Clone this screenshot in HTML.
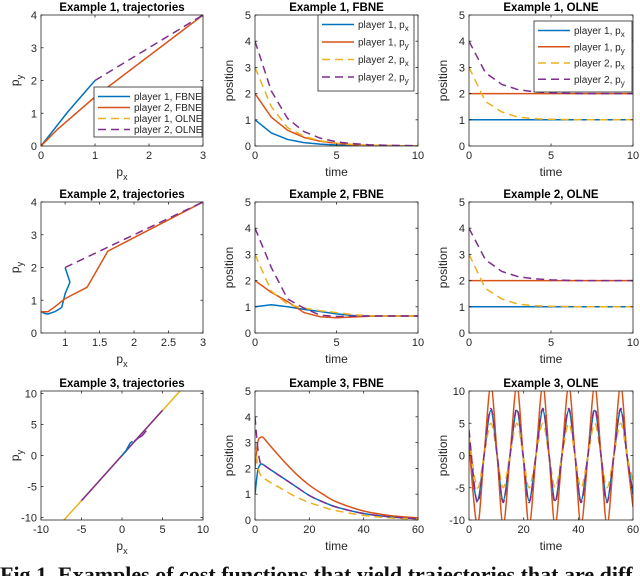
<!DOCTYPE html>
<html><head><meta charset="utf-8"><style>
body{margin:0;background:#fff}
svg{display:block;font-family:"Liberation Sans",sans-serif}
</style></head><body>
<svg id="fig" width="640" height="576" viewBox="0 0 640 576">
<text x="0" y="582" font-family="Liberation Serif, serif" font-weight="bold" font-size="22" fill="#111">Fig 1. Examples of cost functions that yield trajectories that are diff</text>
</svg>
<script>
// ---------- data ----------
const tSteps = [0,1,2,3,4,5,6,7,8,9,10];
const ex1TrajP1Fx = [0,0.5,1], ex1TrajP1Fy = [0,1.05,2];
const ex1TrajP2Fx = [0,0.3,1,3], ex1TrajP2Fy = [0,0.5,1.5,4];
const ex1TrajP1Ox = [1,1], ex1TrajP1Oy = [2,2];
const ex1TrajP2Ox = [1,3], ex1TrajP2Oy = [2,4];
const ex1F_p1x = [1,0.5,0.25,0.13,0.07,0.04,0.02,0.01,0.005,0,0];
const ex1F_p1y = [2,1.1,0.6,0.33,0.18,0.1,0.05,0.03,0.02,0.01,0];
const ex1F_p2x = [3,1.5,0.7,0.37,0.2,0.11,0.06,0.03,0.02,0.01,0];
const ex1F_p2y = [4,2.1,1.05,0.55,0.3,0.16,0.09,0.05,0.03,0.02,0.01];
const exO_p1x = [1,1,1,1,1,1,1,1,1,1,1];
const exO_p1y = [2,2,2,2,2,2,2,2,2,2,2];
const exO_p2x = [3,1.7,1.3,1.1,1.04,1.02,1.01,1,1,1,1];
const exO_p2y = [4,2.8,2.35,2.15,2.07,2.03,2.01,2,2,2,2];
const ex2TrajP1Fx = [1,1.07,1,0.95,0.85,0.75,0.7,0.65], ex2TrajP1Fy = [2,1.55,1.2,0.78,0.65,0.58,0.6,0.65];
const ex2TrajP2Fx = [3,1.62,1.32,1,0.85,0.75,0.65], ex2TrajP2Fy = [4,2.5,1.4,1.05,0.8,0.65,0.65];
const ex2TrajP2Ox = [1,3], ex2TrajP2Oy = [2,4];
const ex2F_p1x = [1,1.08,1.0,0.9,0.82,0.73,0.67,0.65,0.65,0.65,0.65];
const ex2F_p1y = [2,1.55,1.2,0.78,0.62,0.58,0.61,0.64,0.65,0.65,0.65];
const ex2F_p2x = [3,1.6,1.1,0.95,0.85,0.78,0.7,0.66,0.65,0.65,0.65];
const ex2F_p2y = [4,2.5,1.3,0.95,0.68,0.63,0.64,0.65,0.65,0.65,0.65];
const ex3TrajP2Ox = [-7.3,7.3], ex3TrajP2Oy = [-10.6,10.6];
const ex3TrajP1Ox = [-5,5], ex3TrajP1Oy = [-7.3,7.3];
const ex3TrajP1Fx = [0,0.5,1,1.3], ex3TrajP1Fy = [0,0.8,2,2.3];
const ex3TrajP2Fx = [1.5,2,2.5,3], ex3TrajP2Fy = [2.3,2.8,3.2,4];
const ex3FT = [0,1,2,3,5,10,15,20,25,30,40,50,60];
const ex3F_p1x = [1,1.9,2.15,2.15,2.0,1.65,1.3,0.95,0.7,0.5,0.25,0.12,0.05];
const ex3F_p1y = [2,3.0,3.2,3.2,2.95,2.35,1.8,1.35,1.0,0.7,0.35,0.17,0.08];
const ex3F_p2x = [3,2.1,1.75,1.65,1.5,1.2,0.9,0.68,0.5,0.36,0.18,0.08,0.03];
const ex3F_p2y = [4,2.8,2.2,2.15,2.0,1.65,1.3,0.95,0.7,0.5,0.25,0.12,0.05];
const ex3OT = [0,3,5.5,8,10.3,12.5,15,17.5,19.8,22,24.5,27,29.3,31.5,34,36.5,38.8,41,43.5,46,48.3,50.5,53,55.5,57.8,60];
const ex3O_p1x = [1,-7,0,7,0,-7,0,7,0,-7,0,7,0,-7,0,7,0,-7,0,7,0,-7,0,7,0,-6];
const ex3O_p1y = [2,-10.8,0,10.8,0,-10.8,0,10.8,0,-10.8,0,10.8,0,-10.8,0,10.8,0,-10.8,0,10.8,0,-10.8,0,10.8,0,-8];
const ex3O_p2x = [3,-5,0,5,0,-5,0,5,0,-5,0,5,0,-5,0,5,0,-5,0,5,0,-5,0,5,0,-4];
const ex3O_p2y = [4,-7.3,0,7.3,0,-7.3,0,7.3,0,-7.3,0,7.3,0,-7.3,0,7.3,0,-7.3,0,7.3,0,-7.3,0,7.3,0,-6];
const timeTicks10 = [0,5,10], timeTicks60 = [0,20,40,60];
const posTicks = [0,1,2,3,4,5], trajTicks4 = [0,1,2,3,4];
const ex1XTicks = [0,1,2,3], ex2XTicks = [1,1.5,2,2.5,3];
const ex3Ticks = [-10,-5,0,5,10];

// ---------- drawing ----------
const NS = 'http://www.w3.org/2000/svg';
const svg = document.getElementById('fig');
const C = {b:'#0072BD', o:'#D95319', y:'#EDB120', p:'#7E2F8E'};
const colL = [41,255,469], colR = [203,418,633];
const rowT = [15,202,391], rowB = [146,333,520];
function mk(tag, attrs, parent){const e=document.createElementNS(NS,tag);for(const k in attrs)e.setAttribute(k,attrs[k]);(parent||svg).appendChild(e);return e;}
let clipId=0;
function panel(o){
  const g = mk('g',{});
  
  
  const L=colL[o.c],R=colR[o.c],T=rowT[o.r],B=rowB[o.r];
  const sx=v=>L+(v-o.xd[0])/(o.xd[1]-o.xd[0])*(R-L);
  const sy=v=>B-(v-o.yd[0])/(o.yd[1]-o.yd[0])*(B-T);
  const id='clip'+(clipId++);
  const cp=mk('clipPath',{id:id},g); mk('rect',{x:L,y:T,width:R-L,height:B-T},cp);
  const sg=mk('g',{'clip-path':'url(#'+id+')'},g);
  o.series.forEach(s=>{
    let d;
    const pts=s.x.map((v,i)=>[sx(v),sy(s.y[i])]);
    if(s.smooth){
      d='M'+pts[0][0]+','+pts[0][1];
      for(let i=0;i<pts.length-1;i++){
        const p0=pts[Math.max(0,i-1)],p1=pts[i],p2=pts[i+1],p3=pts[Math.min(pts.length-1,i+2)];
        d+=' C'+(p1[0]+(p2[0]-p0[0])/6)+','+(p1[1]+(p2[1]-p0[1])/6)+' '+(p2[0]-(p3[0]-p1[0])/6)+','+(p2[1]-(p3[1]-p1[1])/6)+' '+p2[0]+','+p2[1];
      }
    } else d='M'+pts.map(p=>p.join(',')).join(' L');
    const path=mk('path',{d:d,fill:'none',stroke:s.col,'stroke-width':1.5,'stroke-dasharray':s.dash?'8,5':'none','stroke-linejoin':'round'},sg);
    
    
  });
  mk('rect',{x:L,y:T,width:R-L,height:B-T,fill:'none',stroke:'#262626','stroke-width':0.8},g);
  o.xt.forEach(v=>{
    const x=sx(v);
    mk('line',{x1:x,x2:x,y1:B,y2:B-2.5,stroke:'#262626','stroke-width':0.8},g);
    mk('line',{x1:x,x2:x,y1:T,y2:T+2.5,stroke:'#262626','stroke-width':0.8},g);
    const t=mk('text',{x:x,y:B+13,'text-anchor':'middle','font-size':11,fill:'#262626'},g);t.textContent=v;
    
    
  });
  o.yt.forEach(v=>{
    const y=sy(v);
    mk('line',{x1:L,x2:L+2.5,y1:y,y2:y,stroke:'#262626','stroke-width':0.8},g);
    mk('line',{x1:R,x2:R-2.5,y1:y,y2:y,stroke:'#262626','stroke-width':0.8},g);
    const t=mk('text',{x:L-4,y:y+4,'text-anchor':'end','font-size':11,fill:'#262626'},g);t.textContent=v;
    
    
  });
  const tt=mk('text',{x:(L+R)/2,y:T-4,'text-anchor':'middle','font-size':11.5,'font-weight':'bold',fill:'#000'},g);tt.textContent=o.title;
  
  
  const xl=mk('text',{x:(L+R)/2,y:B+30,'text-anchor':'middle','font-size':12,fill:'#262626'},g);
  if(o.traj){xl.innerHTML='p<tspan font-size="9" dy="4">x</tspan>';}else xl.textContent='time';
  
  
  const yx=L-22, yy=(T+B)/2;
  const yl=mk('text',{x:yx,y:yy,'text-anchor':'middle','font-size':12,fill:'#262626',transform:'rotate(-90 '+yx+' '+yy+')'},g);
  if(o.traj){yl.innerHTML='p<tspan font-size="9" dy="4">y</tspan>';}else yl.textContent='position';
  
  
  if(o.legend){
    const lg=o.legend; const lgG=mk('g',{},g);
    
    
    mk('rect',{x:lg.x,y:lg.y,width:lg.w,height:lg.h,fill:'#fff',stroke:'#262626','stroke-width':0.8},lgG);
    o.series.forEach((s,i)=>{
      const yy2=lg.y+9.5+i*(lg.h-6)/4;
      mk('line',{x1:lg.x+4,x2:lg.x+36,y1:yy2,y2:yy2,stroke:s.col,'stroke-width':1.5,'stroke-dasharray':s.dash?'8,5':'none'},lgG);
      const t=mk('text',{x:lg.x+40,y:yy2+3.5,'font-size':10,fill:'#262626'},lgG);
      t.innerHTML=lg.labels[i];
      
      
    });
  }
}
const posLabels=['player 1, p<tspan font-size="8" dy="3">x</tspan>','player 1, p<tspan font-size="8" dy="3">y</tspan>','player 2, p<tspan font-size="8" dy="3">x</tspan>','player 2, p<tspan font-size="8" dy="3">y</tspan>'];
function ts(x,a,b,c,d,sm){return [
  {name:'player1-px',x:x,y:a,col:C.b,smooth:sm},{name:'player1-py',x:x,y:b,col:C.o,smooth:sm},
  {name:'player2-px',x:x,y:c,col:C.y,dash:1,smooth:sm},{name:'player2-py',x:x,y:d,col:C.p,dash:1,smooth:sm}];}
panel({name:'ex1-trajectories',r:0,c:0,traj:1,title:'Example 1, trajectories',xd:[0,3],yd:[0,4],xt:ex1XTicks,yt:trajTicks4,
  series:[{name:'player1-fbne',x:ex1TrajP1Fx,y:ex1TrajP1Fy,col:C.b},{name:'player2-fbne',x:ex1TrajP2Fx,y:ex1TrajP2Fy,col:C.o},
  {name:'player1-olne',x:ex1TrajP1Ox,y:ex1TrajP1Oy,col:C.y,dash:1},{name:'player2-olne',x:ex1TrajP2Ox,y:ex1TrajP2Oy,col:C.p,dash:1}],
  legend:{x:94,y:87,w:108,h:50,labels:['player 1, FBNE','player 2, FBNE','player 1, OLNE','player 2, OLNE']}});
panel({name:'ex1-fbne',r:0,c:1,title:'Example 1, FBNE',xd:[0,10],yd:[0,5],xt:timeTicks10,yt:posTicks,
  series:ts(tSteps,ex1F_p1x,ex1F_p1y,ex1F_p2x,ex1F_p2y),legend:{x:318,y:15,w:96,h:76,labels:posLabels}});
panel({name:'ex1-olne',r:0,c:2,title:'Example 1, OLNE',xd:[0,10],yd:[0,5],xt:timeTicks10,yt:posTicks,
  series:ts(tSteps,exO_p1x,exO_p1y,exO_p2x,exO_p2y),legend:{x:534,y:21,w:98,h:71,labels:posLabels}});
panel({name:'ex2-trajectories',r:1,c:0,traj:1,title:'Example 2, trajectories',xd:[0.65,3],yd:[0,4],xt:ex2XTicks,yt:trajTicks4,
  series:[{name:'player1-fbne',x:ex2TrajP1Fx,y:ex2TrajP1Fy,col:C.b},{name:'player2-fbne',x:ex2TrajP2Fx,y:ex2TrajP2Fy,col:C.o},
  {name:'player2-olne',x:ex2TrajP2Ox,y:ex2TrajP2Oy,col:C.p,dash:1}]});
panel({name:'ex2-fbne',r:1,c:1,title:'Example 2, FBNE',xd:[0,10],yd:[0,5],xt:timeTicks10,yt:posTicks,
  series:ts(tSteps,ex2F_p1x,ex2F_p1y,ex2F_p2x,ex2F_p2y)});
panel({name:'ex2-olne',r:1,c:2,title:'Example 2, OLNE',xd:[0,10],yd:[0,5],xt:timeTicks10,yt:posTicks,
  series:ts(tSteps,exO_p1x,exO_p1y,exO_p2x,exO_p2y)});
panel({name:'ex3-trajectories',r:2,c:0,traj:1,title:'Example 3, trajectories',xd:[-10,10],yd:[-10.4,10.4],xt:ex3Ticks,yt:ex3Ticks,
  series:[{name:'player1-olne',x:ex3TrajP2Ox,y:ex3TrajP2Oy,col:C.y},{name:'player2-olne',x:ex3TrajP1Ox,y:ex3TrajP1Oy,col:C.p},
  {name:'player1-fbne',x:ex3TrajP1Fx,y:ex3TrajP1Fy,col:C.b},{name:'player2-fbne',x:ex3TrajP2Fx,y:ex3TrajP2Fy,col:C.p}]});
panel({name:'ex3-fbne',r:2,c:1,title:'Example 3, FBNE',xd:[0,60],yd:[0,5],xt:timeTicks60,yt:posTicks,
  series:ts(ex3FT,ex3F_p1x,ex3F_p1y,ex3F_p2x,ex3F_p2y,1)});
panel({name:'ex3-olne',r:2,c:2,title:'Example 3, OLNE',xd:[0,60],yd:[-10,10],xt:timeTicks60,yt:ex3Ticks,
  series:ts(ex3OT,ex3O_p1x,ex3O_p1y,ex3O_p2x,ex3O_p2y,1)});
</script>
</body></html>
